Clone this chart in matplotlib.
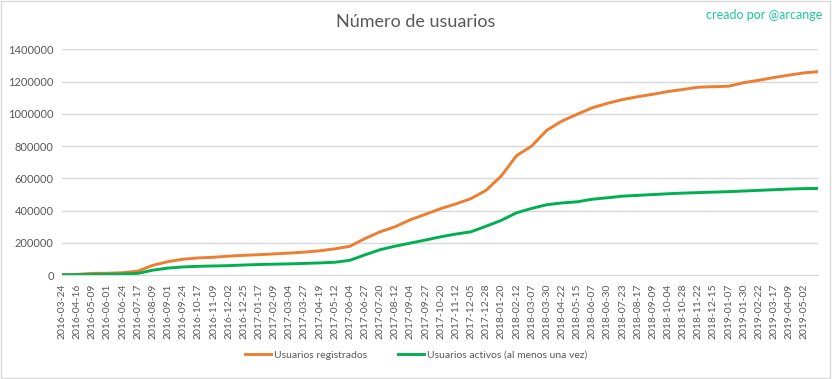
import matplotlib.pyplot as plt
import numpy as np
from matplotlib.patches import Rectangle

# dates (category axis, one label every 23 days of data)
fechas = ["2016-03-24", "2016-04-16", "2016-05-09", "2016-06-01", "2016-06-24",
          "2016-07-17", "2016-08-09", "2016-09-01", "2016-09-24", "2016-10-17",
          "2016-11-09", "2016-12-02", "2016-12-25", "2017-01-17", "2017-02-09",
          "2017-03-04", "2017-03-27", "2017-04-19", "2017-05-12", "2017-06-04",
          "2017-06-27", "2017-07-20", "2017-08-12", "2017-09-04", "2017-09-27",
          "2017-10-20", "2017-11-12", "2017-12-05", "2017-12-28", "2018-01-20",
          "2018-02-12", "2018-03-07", "2018-03-30", "2018-04-22", "2018-05-15",
          "2018-06-07", "2018-06-30", "2018-07-23", "2018-08-17", "2018-09-09",
          "2018-10-04", "2018-10-28", "2018-11-22", "2018-12-15", "2019-01-07",
          "2019-01-30", "2019-02-22", "2019-03-17", "2019-04-09", "2019-05-02",
          "2019-05-22"]

registrados = [2000, 4000, 10000, 11000, 14000, 24000, 60000, 83000, 98000, 106000,
               110000, 117000, 122000, 126000, 131000, 136000, 142000, 150000, 162000, 178000,
               226000, 268000, 300000, 343000, 377000, 412000, 441000, 474000, 526000, 615000,
               740000, 800000, 898000, 955000, 997000, 1037000, 1065000, 1088000, 1106000, 1121000,
               1138000, 1151000, 1165000, 1168000, 1171000, 1193000, 1208000, 1225000, 1240000, 1254000,
               1262000]

activos = [1000, 2000, 4000, 5000, 6000, 10000, 30000, 43000, 50000, 54000,
           56000, 58000, 62000, 65000, 67000, 69000, 72000, 75000, 79000, 91000,
           125000, 157000, 179000, 198000, 217000, 237000, 254000, 268000, 303000, 339000,
           386000, 413000, 436000, 447000, 454000, 470000, 479000, 489000, 494000, 499000,
           504000, 508000, 511000, 514000, 517000, 521000, 525000, 529000, 533000, 536000,
           537000]

gris = "#595959"
x = np.arange(len(fechas))

fig = plt.figure(figsize=(8.32, 3.79), dpi=100)
plt.rcParams['font.family'] = ['Lato', 'DejaVu Sans']
ax = fig.add_axes([62 / 832, 1 - 275 / 379, (818 - 62) / 832, (275 - 49.3) / 379])

ax.plot(x, registrados, color="#ED7D31", lw=2.1, label="Usuarios registrados")
ax.plot(x, activos, color="#00B050", lw=2.1, label="Usuarios activos (al menos una vez)")

ax.set_xlim(0, 49.9)
ax.set_ylim(0, 1400000)
ax.set_yticks(np.arange(0, 1400001, 200000))
ax.set_yticklabels([str(v) for v in range(0, 1400001, 200000)], fontsize=8, color=gris)
ax.set_xticks(x[:-1])
ax.set_xticklabels(fechas[:-1], rotation=90, fontsize=7.5, color=gris)
ax.tick_params(length=0, pad=6)
ax.grid(axis="y", color="#D9D9D9", lw=1)
ax.set_axisbelow(True)
for s in ["top", "right", "left"]:
    ax.spines[s].set_visible(False)
ax.spines["bottom"].set_color("#D9D9D9")

fig.text(0.5, 1 - 22 / 379, "Número de usuarios", ha="center", va="center", fontsize=13, color=gris)
fig.text(822 / 832, 1 - 15 / 379, "creado por @arcange", ha="right", va="center", fontsize=9, color="#1CC79B")

fig.legend(loc="center", bbox_to_anchor=(0.5, 1 - 355 / 379), ncol=2, frameon=False,
           fontsize=7.5, labelcolor=gris, handlelength=2.5, handletextpad=0.3, columnspacing=3)

fig.patches.append(Rectangle((0.001, 0.002), 0.997, 0.995, transform=fig.transFigure,
                             fill=False, edgecolor="#D9D9D9", lw=1))

fig.savefig("out.png", dpi=100)
